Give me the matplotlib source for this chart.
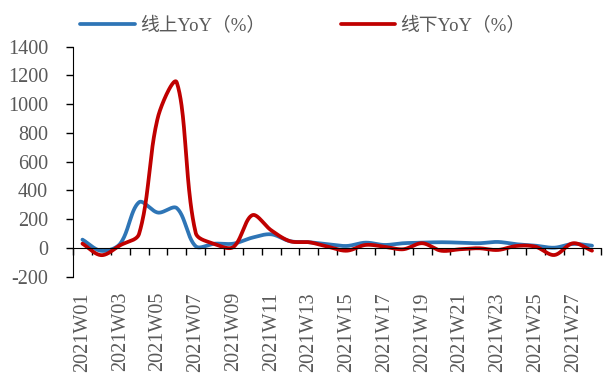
import numpy as np
import matplotlib
matplotlib.use("Agg")
import matplotlib.pyplot as plt

plt.rcParams['font.family'] = ['Liberation Serif', 'Noto Sans CJK SC']

weeks = [f"2021W{i:02d}" for i in range(1, 29)]
online_yoy = [58, -20, 30, 318, 246, 277, 12, 30, 30, 72, 95, 47, 40,
              26, 14, 37, 21, 33, 37, 40, 37, 33, 42, 26, 16, 2, 28, 16]
offline_yoy = [30, -50, 19, 98, 910, 1150, 105, 28, 7, 228, 123, 47, 40,
               9, -19, 21, 9, -9, 33, -19, -9, -2, -14, 14, 9, -49, 33, -19]
series_names = ["线上YoY（%）", "线下YoY（%）"]
series_colors = ["#2E75B6", "#C00000"]
y_ticks = [-200, 0, 200, 400, 600, 800, 1000, 1200, 1400]

FIG_W, FIG_H, DPI = 6.06, 3.76, 100
AX_RECT = [0.1205, 0.264, 0.872, 0.612]
Y_MIN, Y_MAX = -200, 1400


def smooth(y, sx, sy, per_seg=40):
    """Chord-weighted cubic Bezier smoothing, computed in screen units."""
    y = np.asarray(y, dtype=float)
    n = len(y)
    P = np.column_stack([np.arange(n) * sx, y * sy])
    d = np.linalg.norm(np.diff(P, axis=0), axis=1)
    out = []
    for i in range(n - 1):
        p0, p1 = P[i], P[i + 1]
        if i == 0:
            c1 = p0 + (p1 - p0) / 3
        else:
            t = P[i + 1] - P[i - 1]
            c1 = p0 + t * (d[i] / (d[i - 1] + d[i])) / 3
        if i == n - 2:
            c2 = p1 - (p1 - p0) / 3
        else:
            t = P[i + 2] - P[i]
            c2 = p1 - t * (d[i] / (d[i] + d[i + 1])) / 3
        u = np.linspace(0, 1, per_seg, endpoint=(i == n - 2))[:, None]
        seg = ((1 - u) ** 3 * p0 + 3 * (1 - u) ** 2 * u * c1 +
               3 * (1 - u) * u ** 2 * c2 + u ** 3 * p1)
        out.append(seg)
    pts = np.vstack(out)
    return pts[:, 0] / sx, pts[:, 1] / sy


fig = plt.figure(figsize=(FIG_W, FIG_H), dpi=DPI)
ax = fig.add_axes(AX_RECT)

n = len(weeks)
px_per_cat = AX_RECT[2] * FIG_W * DPI / n
px_per_val = AX_RECT[3] * FIG_H * DPI / (Y_MAX - Y_MIN)

for vals, name, col in zip([online_yoy, offline_yoy], series_names, series_colors):
    cx, cy = smooth(vals, px_per_cat, px_per_val)
    ax.plot(cx, cy, color=col, lw=2.7, label=name, solid_capstyle='round')

ax.set_xlim(-0.5, n - 0.5)
ax.set_ylim(Y_MIN, Y_MAX)
ax.set_yticks(y_ticks)
ax.set_yticklabels([str(v) for v in y_ticks])

tick_grey = "#595959"
ax.tick_params(axis='y', direction='out', length=5, width=1, colors='black',
               labelcolor=tick_grey, labelsize=14.5, pad=13)

# category axis drawn along the zero line, tick marks at category boundaries
for s in ['top', 'right']:
    ax.spines[s].set_visible(False)
ax.spines['left'].set_color('black')
ax.spines['bottom'].set_position(('data', 0))
ax.spines['bottom'].set_color('black')
ax.set_xticks(np.arange(-0.5, n, 1.0))
ax.tick_params(axis='x', direction='out', length=5, width=1, colors='black',
               labelbottom=False)

# week labels at the bottom of the plot area
sec = ax.secondary_xaxis(0)
sec.set_xticks(np.arange(0, n, 2))
sec.set_xticklabels(weeks[::2], rotation=90, color=tick_grey, fontsize=14.5)
sec.tick_params(axis='x', length=0, pad=11)
sec.spines['bottom'].set_visible(False)

fig.legend(loc='upper center', bbox_to_anchor=(0.5, 1.0), ncol=2, frameon=False,
           fontsize=13.5, handlelength=2.9, handletextpad=0.3, columnspacing=4.0,
           labelcolor=tick_grey)

fig.savefig("out.png", dpi=DPI)
